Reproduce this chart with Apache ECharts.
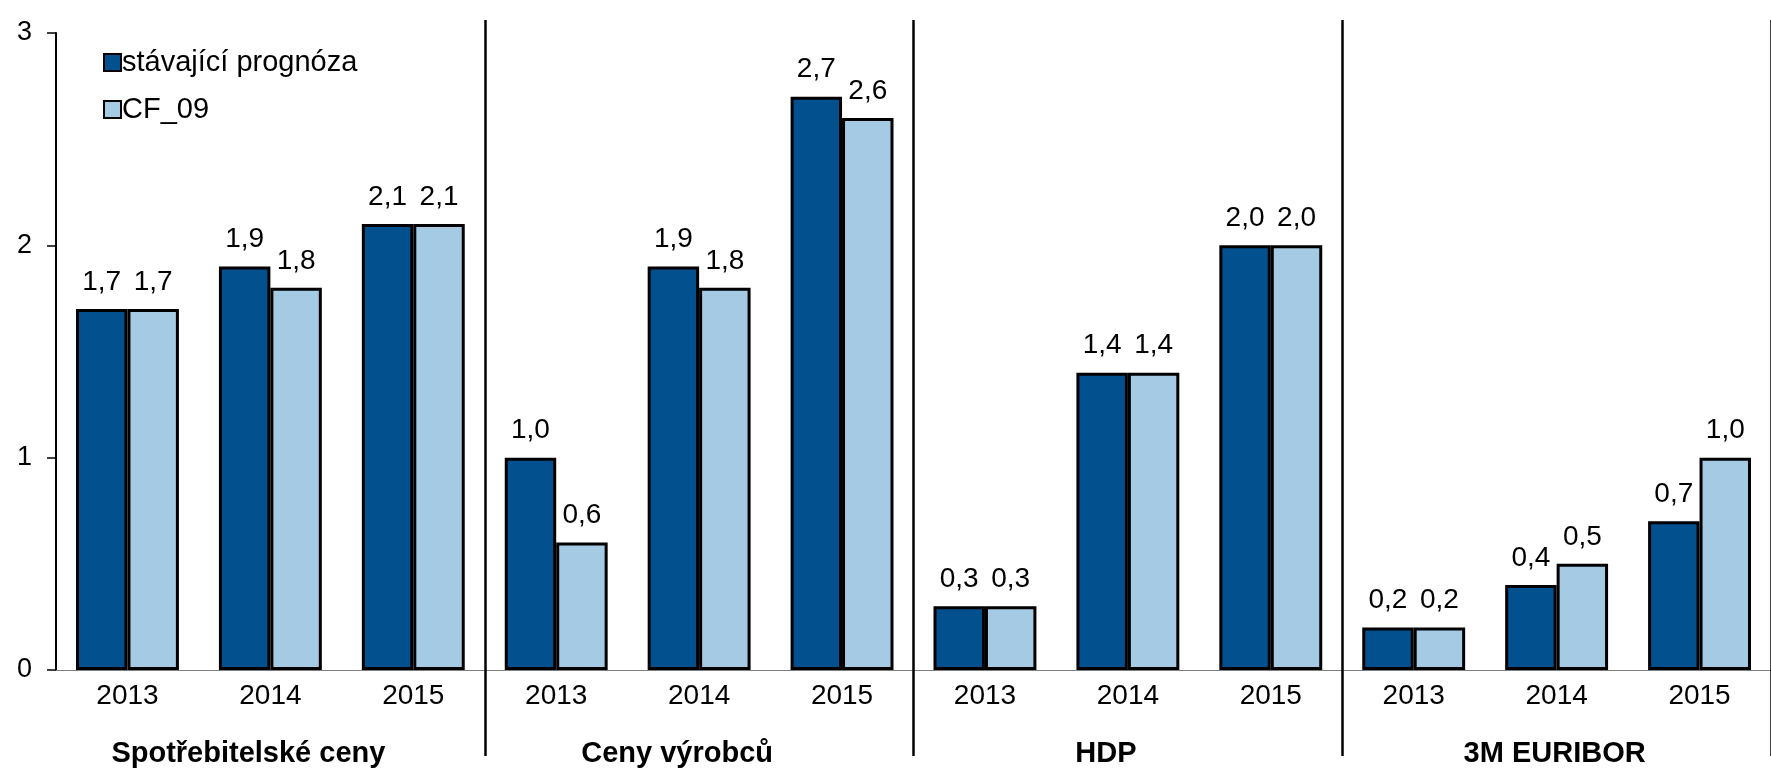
<!DOCTYPE html>
<html lang="cs">

<head>
    <meta charset="UTF-8">
    <title>Prognóza</title>
    <script src="https://cdn.jsdelivr.net/npm/echarts@6/dist/echarts.min.js"></script>
    <style>
        html, body { margin: 0; padding: 0; background: #fff; }
        #chart { width: 1771px; height: 773px; }
    </style>
</head>

<body>
    <div id="chart"></div>
    <script>
        // data
        var years = ['2013', '2014', '2015', '2013', '2014', '2015', '2013', '2014', '2015', '2013', '2014', '2015'];
        var groups = ['Spotřebitelské ceny', 'Ceny výrobců', 'HDP', '3M EURIBOR'];
        var seriesNames = ['stávající prognóza', 'CF_09'];
        var current = [1.7, 1.9, 2.1, 1.0, 1.9, 2.7, 0.3, 1.4, 2.0, 0.2, 0.4, 0.7];
        var cf09 = [1.7, 1.8, 2.1, 0.6, 1.8, 2.6, 0.3, 1.4, 2.0, 0.2, 0.5, 1.0];
        var yTicks = [0, 1, 2, 3];

        var font = "'Liberation Sans', Arial, sans-serif";

        function barSeries(name, values, color) {
            return {
                name: name,
                type: 'bar',
                data: values,
                barGap: '0%',
                barCategoryGap: '28%',
                itemStyle: {
                    color: color,
                    borderColor: '#000',
                    borderWidth: 3
                },
                label: {
                    show: true,
                    position: 'top',
                    distance: 13,
                    color: '#000',
                    fontFamily: font,
                    fontSize: 28,
                    formatter: function (p) {
                        return p.value.toFixed(1).replace('.', ',');
                    }
                }
            };
        }

        var groupLabel = { fontFamily: font, fontSize: 29, fontWeight: 'bold', color: '#000' };

        var chart = echarts.init(document.getElementById('chart'));
        chart.setOption({
            animation: false,
            backgroundColor: '#fff',
            textStyle: { fontFamily: font, color: '#000' },
            grid: { left: 56, right: -11, top: 33, bottom: 103 },
            legend: {
                orient: 'vertical',
                left: 98,
                top: 43,
                itemWidth: 17,
                itemHeight: 17,
                itemGap: 18,
                icon: 'rect',
                textStyle: { fontFamily: font, fontSize: 29, color: '#000', padding: [0, 0, 0, -4] },
                data: seriesNames
            },
            xAxis: [{
                type: 'category',
                data: years,
                axisLine: { lineStyle: { color: '#808080', width: 1 } },
                axisTick: { show: false },
                axisLabel: { interval: 0, color: '#000', fontFamily: font, fontSize: 28, margin: 12 }
            }, {
                type: 'category',
                data: groups,
                position: 'bottom',
                offset: 86,
                axisLine: { show: false },
                axisTick: {
                    show: true,
                    inside: true,
                    length: 736,
                    interval: function (i) { return i > 0; },
                    lineStyle: { color: '#000', width: 2.5 }
                },
                axisLabel: {
                    interval: 0,
                    margin: -17,
                    formatter: function (v, i) {
                        return (i === groups.length - 1 ? '{b|' : '{a|') + v + '}';
                    },
                    rich: {
                        a: Object.assign({ padding: [0, 44, 0, 0] }, groupLabel),
                        b: Object.assign({ padding: [0, 4, 0, 0] }, groupLabel)
                    }
                }
            }],
            yAxis: {
                type: 'value',
                min: yTicks[0],
                max: yTicks[yTicks.length - 1],
                interval: 1,
                splitLine: { show: false },
                axisLine: { show: true, lineStyle: { color: '#000', width: 2 } },
                axisTick: { show: true, length: 9, lineStyle: { color: '#000', width: 1.5 } },
                axisLabel: { color: '#000', fontFamily: font, fontSize: 27, margin: 24 }
            },
            series: [
                barSeries(seriesNames[0], current, '#03508e'),
                barSeries(seriesNames[1], cf09, '#a5cae3')
            ]
        });
    </script>
</body>

</html>
